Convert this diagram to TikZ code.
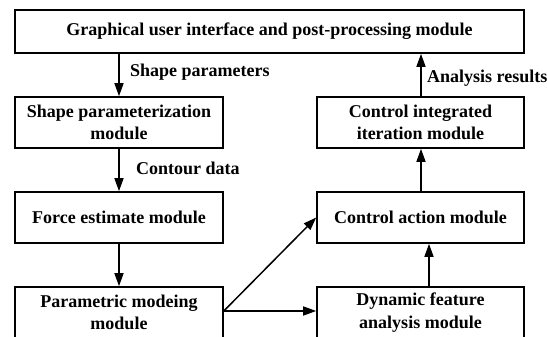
\documentclass[tikz,border=0pt]{standalone}
\usepackage{fontspec}
\setmainfont{Liberation Serif}
\usetikzlibrary{arrows.meta}
\begin{document}
\begin{tikzpicture}[x=1pt,y=-1pt,
  box/.style={draw, line width=1.6pt, minimum width=208pt, minimum height=51pt, inner sep=0pt, align=center, font=\fontsize{18}{22.5}\selectfont\bfseries},
  arr/.style={line width=1.5pt, -{Triangle[length=13pt,width=9pt]}},
  lab/.style={font=\fontsize{18}{22.5}\selectfont\bfseries, anchor=west, inner sep=0pt}]
\useasboundingbox (0,0) rectangle (547,337);
\node[box, minimum width=509pt, minimum height=43pt] (gui) at (269.5,31.5) {Graphical user interface and post-processing module};
\node[box] (shape) at (119,122.5) {Shape parameterization\\module};
\node[box] (force) at (119,217.5) {Force estimate module};
\node[box] (param) at (119,312.5) {Parametric modeing\\module};
\node[box, minimum width=207pt] (integ) at (420.5,122.5) {Control integrated\\iteration module};
\node[box, minimum width=207pt] (action) at (420.5,217.5) {Control action module};
\node[box, minimum width=207pt] (dyn) at (420.5,312.5) {Dynamic feature\\analysis module};
\draw[arr] (gui.south -| shape.north) -- (shape.north);
\draw[arr] (shape.south) -- (force.north);
\draw[arr] (force.south) -- (param.north);
\draw[arr] ([xshift=0.5pt]integ.north) -- ([xshift=0.5pt]integ.north |- gui.south);
\draw[arr] ([xshift=0.5pt]action.north) -- ([xshift=0.5pt]integ.south);
\draw[arr] ([xshift=8.5pt]dyn.north) -- ([xshift=8.5pt]action.south);
\draw[arr] ([yshift=1.5pt]param.east) -- ([yshift=1.5pt]param.east -| dyn.west);
\draw[arr] ([yshift=1.5pt]param.east) -- (action.west);
\node[lab] (l1) at (130,72) {Shape parameters};
\node[lab] (l2) at (427,78) {Analysis results};
\node[lab] (l3) at (136,168) {Contour data};
\end{tikzpicture}
\end{document}
